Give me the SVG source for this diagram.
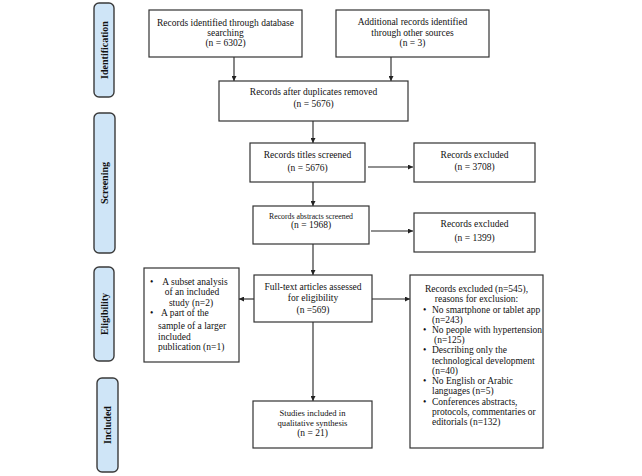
<svg xmlns="http://www.w3.org/2000/svg" width="642" height="476" viewBox="0 0 642 476">
<style>
.bg{fill:#ffffff}
.box{fill:#ffffff;stroke:#333333;stroke-width:1.2}
.lab{fill:#cfe5f7;stroke:#3a3a3a;stroke-width:1.4}
.t{font-family:"Liberation Serif","Times New Roman",serif;font-size:9.5px;fill:#111111}
.c{text-anchor:middle}
.s{font-size:7.8px}
.m{font-size:8.6px}
.lt{font-family:"Liberation Serif","Times New Roman",serif;font-size:10px;font-weight:bold;fill:#111111;text-anchor:middle}
.con{stroke:#222222;stroke-width:1.1;fill:none;marker-end:url(#ah)}
</style>
<defs>
<marker id="ah" viewBox="0 0 6 6" refX="6" refY="3" markerWidth="5" markerHeight="5" markerUnits="userSpaceOnUse" orient="auto">
<path d="M0,0 L6,3 L0,6 Z" fill="#222222"/>
</marker>
</defs>
<rect class="bg" x="0" y="0" width="642" height="476"/>

<g id="label-identification">
<rect class="lab" x="94" y="3" width="20" height="94" rx="5"/>
<text class="lt" transform="translate(107.5,50) rotate(-90)">Identification</text>
</g>
<g id="label-screening">
<rect class="lab" x="94" y="113" width="21" height="140" rx="5"/>
<text class="lt" transform="translate(108,183) rotate(-90)">Screening</text>
</g>
<g id="label-eligibility">
<rect class="lab" x="94" y="267" width="20" height="94" rx="5"/>
<text class="lt" transform="translate(107.5,314) rotate(-90)">Eligibility</text>
</g>
<g id="label-included">
<rect class="lab" x="97" y="378" width="21" height="94" rx="5"/>
<text class="lt" transform="translate(111,425) rotate(-90)">Included</text>
</g>

<g id="connectors">
<line class="con" x1="234" y1="57" x2="234" y2="81"/>
<line class="con" x1="391" y1="57" x2="391" y2="81"/>
<line class="con" x1="313" y1="121" x2="313" y2="143"/>
<line class="con" x1="313" y1="182" x2="313" y2="206"/>
<line class="con" x1="368" y1="167" x2="413" y2="167"/>
<line class="con" x1="371" y1="231" x2="413" y2="231"/>
<line class="con" x1="313" y1="244" x2="313" y2="275"/>
<line class="con" x1="372" y1="299" x2="410" y2="299"/>
<line class="con" x1="254" y1="299" x2="239" y2="299"/>
<line class="con" x1="313" y1="322" x2="313" y2="401"/>
</g>

<g id="db-records">
<rect class="box" x="149" y="10" width="153" height="47"/>
<text class="t c" x="225.5" y="26">Records identified through database</text>
<text class="t c" x="225.5" y="36">searching</text>
<text class="t c" x="225.5" y="46">(n = 6302)</text>
</g>
<g id="other-records">
<rect class="box" x="336" y="10" width="153" height="47"/>
<text class="t c" x="412.5" y="25">Additional records identified</text>
<text class="t c" x="412.5" y="36">through other sources</text>
<text class="t c" x="412.5" y="46">(n = 3)</text>
</g>
<g id="dedup">
<rect class="box" x="219" y="81" width="189" height="40"/>
<text class="t c" x="313.5" y="95">Records after duplicates removed</text>
<text class="t c" x="313.5" y="107">(n = 5676)</text>
</g>
<g id="titles">
<rect class="box" x="250" y="143" width="115" height="39"/>
<text class="t c" x="307.5" y="158">Records titles screened</text>
<text class="t c" x="307.5" y="171">(n = 5676)</text>
</g>
<g id="excluded-1">
<rect class="box" x="414" y="143" width="121" height="39"/>
<text class="t c" x="474.5" y="158">Records excluded</text>
<text class="t c" x="474.5" y="170">(n = 3708)</text>
</g>
<g id="abstracts">
<rect class="box" x="253" y="206" width="116" height="38"/>
<text class="t c s" x="311" y="219">Records abstracts screened</text>
<text class="t c" x="311" y="228">(n = 1968)</text>
</g>
<g id="excluded-2">
<rect class="box" x="414" y="213" width="121" height="39"/>
<text class="t c" x="474.5" y="227">Records excluded</text>
<text class="t c" x="474.5" y="241">(n = 1399)</text>
</g>
<g id="fulltext">
<rect class="box" x="254" y="275" width="118" height="47"/>
<text class="t c" x="313" y="290">Full-text articles assessed</text>
<text class="t c" x="313" y="301">for eligibility</text>
<text class="t c" x="313" y="313">(n =569)</text>
</g>
<g id="left-excluded">
<rect class="box" x="144" y="268" width="95" height="94"/>
<text class="t" x="150" y="285">•</text>
<text class="t c" x="195" y="285">A subset analysis</text>
<text class="t c" x="192" y="295">of an included</text>
<text class="t c" x="191" y="306">study (n=2)</text>
<text class="t" x="150" y="316">•</text>
<text class="t" x="161" y="316">A part of the</text>
<text class="t" x="158" y="329">sample of a larger</text>
<text class="t" x="158" y="340">included</text>
<text class="t" x="158" y="350">publication (n=1)</text>
</g>
<g id="excluded-3">
<rect class="box" x="410" y="275" width="133" height="173"/>
<text class="t c" x="476.5" y="292">Records excluded (n=545),</text>
<text class="t c" x="476.5" y="302">reasons for exclusion:</text>
<text class="t" x="423" y="313">•</text>
<text class="t" x="432" y="313">No smartphone or tablet app</text>
<text class="t" x="432" y="323">(n=243)</text>
<text class="t" x="423" y="333">•</text>
<text class="t" x="432" y="333">No people with hypertension</text>
<text class="t" x="434" y="343">(n=125)</text>
<text class="t" x="423" y="353">•</text>
<text class="t" x="432" y="353">Describing only the</text>
<text class="t" x="432" y="364">technological development</text>
<text class="t" x="432" y="374">(n=40)</text>
<text class="t" x="423" y="384">•</text>
<text class="t" x="432" y="384">No English or Arabic</text>
<text class="t" x="432" y="394">languages (n=5)</text>
<text class="t" x="423" y="405">•</text>
<text class="t" x="432" y="405">Conferences abstracts,</text>
<text class="t" x="432" y="415">protocols, commentaries or</text>
<text class="t" x="432" y="425">editorials (n=132)</text>
</g>
<g id="included">
<rect class="box" x="253" y="401" width="119" height="47"/>
<text class="t c m" x="312.5" y="416">Studies included in</text>
<text class="t c m" x="312.5" y="426">qualitative synthesis</text>
<text class="t c" x="312.5" y="436">(n = 21)</text>
</g>
</svg>
